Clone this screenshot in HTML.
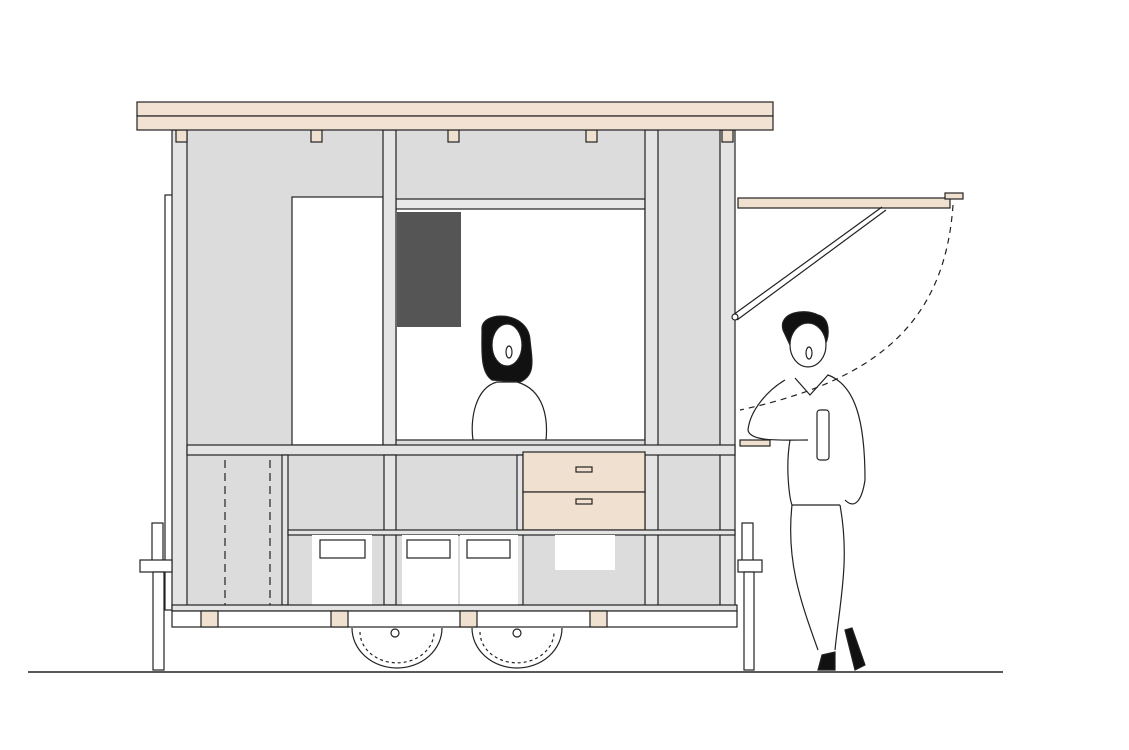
<!DOCTYPE html>
<html><head><meta charset="utf-8"><style>html,body{margin:0;padding:0;background:#fff}svg{display:block}</style></head><body>
<svg width="1129" height="750" viewBox="0 0 1129 750" xmlns="http://www.w3.org/2000/svg" stroke="#222" stroke-width="1.2" fill="none">
<!-- ground -->
<line x1="28" y1="672" x2="1003" y2="672" stroke-width="1.5"/>
<!-- body grey -->
<rect x="172" y="130" width="563" height="478" fill="#dcdcdc" stroke="none"/>
<rect x="165" y="195" width="8" height="415" fill="#fff"/>
<!-- white door & window -->
<rect x="292" y="197" width="91" height="248" fill="#fff"/>
<rect x="396" y="207" width="249" height="233" fill="#fff"/>
<rect x="397" y="212" width="64" height="115" fill="#555" stroke="none"/>
<rect x="396" y="199" width="249" height="10" fill="#e8e8e8"/>
<!-- posts -->
<rect x="172" y="130" width="15" height="478" fill="#e4e4e4"/>
<rect x="383" y="130" width="13" height="315" fill="#e4e4e4"/>
<rect x="645" y="130" width="13" height="478" fill="#e4e4e4"/>
<rect x="720" y="130" width="15" height="478" fill="#e4e4e4"/>
<!-- top blocks -->
<g fill="#f0e0d0"><rect x="176" y="130" width="11" height="12"/><rect x="311" y="130" width="11" height="12"/><rect x="448" y="130" width="11" height="12"/><rect x="586" y="130" width="11" height="12"/><rect x="722" y="130" width="11" height="12"/></g>
<!-- roof -->
<rect x="137" y="102" width="636" height="14" fill="#f2e2d4"/>
<rect x="137" y="116" width="636" height="14" fill="#f2e2d4"/>
<!-- counter band -->
<rect x="187" y="445" width="548" height="10" fill="#e4e4e4"/>
<!-- lower verticals -->
<g fill="#e4e4e4"><rect x="282" y="455" width="6" height="150"/><rect x="384" y="455" width="12" height="150"/><rect x="517" y="455" width="6" height="150"/></g>
<!-- drawers -->
<rect x="523" y="452" width="122" height="40" fill="#f0e0d0"/>
<rect x="523" y="492" width="122" height="38" fill="#f0e0d0"/>
<rect x="576" y="467" width="16" height="5"/><rect x="576" y="499" width="16" height="5"/>
<!-- shelf -->
<rect x="288" y="530" width="447" height="5" fill="#e4e4e4"/>
<!-- crates -->
<rect x="312" y="535" width="60" height="70" fill="#fff" stroke="none"/>
<rect x="402" y="535" width="56" height="70" fill="#fff" stroke="none"/>
<rect x="460" y="535" width="58" height="70" fill="#fff" stroke="none"/>
<rect x="555" y="535" width="60" height="35" fill="#fff" stroke="none"/>
<rect x="320" y="540" width="45" height="18"/><rect x="407" y="540" width="43" height="18"/><rect x="467" y="540" width="43" height="18"/>
<!-- dashed door -->
<line x1="225" y1="460" x2="225" y2="605" stroke-dasharray="8 5"/>
<line x1="270" y1="460" x2="270" y2="605" stroke-dasharray="8 5"/>
<!-- bottom frame -->
<rect x="172" y="605" width="565" height="6" fill="#e4e4e4"/>
<rect x="172" y="611" width="565" height="16" fill="#fff"/>
<g fill="#f0e0d0"><rect x="201" y="611" width="17" height="16"/><rect x="331" y="611" width="17" height="16"/><rect x="460" y="611" width="17" height="16"/><rect x="590" y="611" width="17" height="16"/></g>
<!-- wheels -->
<path d="M352 628 A45 40 0 0 0 442 628" fill="#fff"/>
<path d="M472 628 A45 40 0 0 0 562 628" fill="#fff"/>
<path d="M360 632 A36 30 0 0 0 434 632" stroke-dasharray="3 3"/>
<path d="M480 632 A36 30 0 0 0 554 632" stroke-dasharray="3 3"/>
<circle cx="395" cy="633" r="4"/><circle cx="517" cy="633" r="4"/>
<!-- jacks -->
<rect x="152" y="523" width="11" height="40" fill="#fff"/><rect x="140" y="560" width="32" height="12" fill="#fff"/><rect x="153" y="572" width="11" height="98" fill="#fff"/>
<rect x="742" y="523" width="11" height="40" fill="#fff"/><rect x="738" y="560" width="24" height="12" fill="#fff"/><rect x="744" y="572" width="10" height="98" fill="#fff"/>
<!-- awning -->
<rect x="738" y="198" width="212" height="10" fill="#f0e0d0"/>
<rect x="945" y="193" width="18" height="6" fill="#f0e0d0"/>
<path d="M733 315 L882 207 M737 320 L886 210"/>
<circle cx="735" cy="317" r="3" fill="#fff"/>
<path d="M953 205 C945 320 880 380 740 410" stroke-dasharray="6 5"/>
<rect x="740" y="440" width="30" height="6" fill="#f0e0d0"/>
<!-- woman -->
<path d="M482 330 C480 310 528 310 530 340 C532 360 536 375 520 382 L492 380 C480 372 482 350 482 330Z" fill="#111"/>
<ellipse cx="507" cy="345" rx="15" ry="21" fill="#fff"/>
<path d="M497 382 C475 388 470 420 473 440 M517 382 C545 390 548 420 546 440 M497 382 L517 382"/>
<ellipse cx="509" cy="352" rx="3" ry="6"/>
<!-- man -->
<path d="M783 330 C778 312 805 308 818 315 C830 318 830 335 825 345 L790 345 Z" fill="#111"/>
<ellipse cx="808" cy="345" rx="18" ry="22" fill="#fff"/>
<ellipse cx="809" cy="353" rx="3" ry="6"/>
<path d="M795 378 L810 395 L828 375 C855 385 865 420 865 480 C862 500 855 510 845 500 M785 380 C768 390 750 410 748 430 C750 442 780 440 808 440 M790 440 C785 470 790 500 792 505 L840 505 M792 505 C786 560 800 600 818 650 M840 505 C850 560 840 600 835 650"/>
<rect x="817" y="410" width="12" height="50" rx="3"/>
<path d="M822 655 L835 652 L835 670 L818 670Z M845 630 L852 628 L865 665 L855 670Z" fill="#111"/>
</svg>
</body></html>
